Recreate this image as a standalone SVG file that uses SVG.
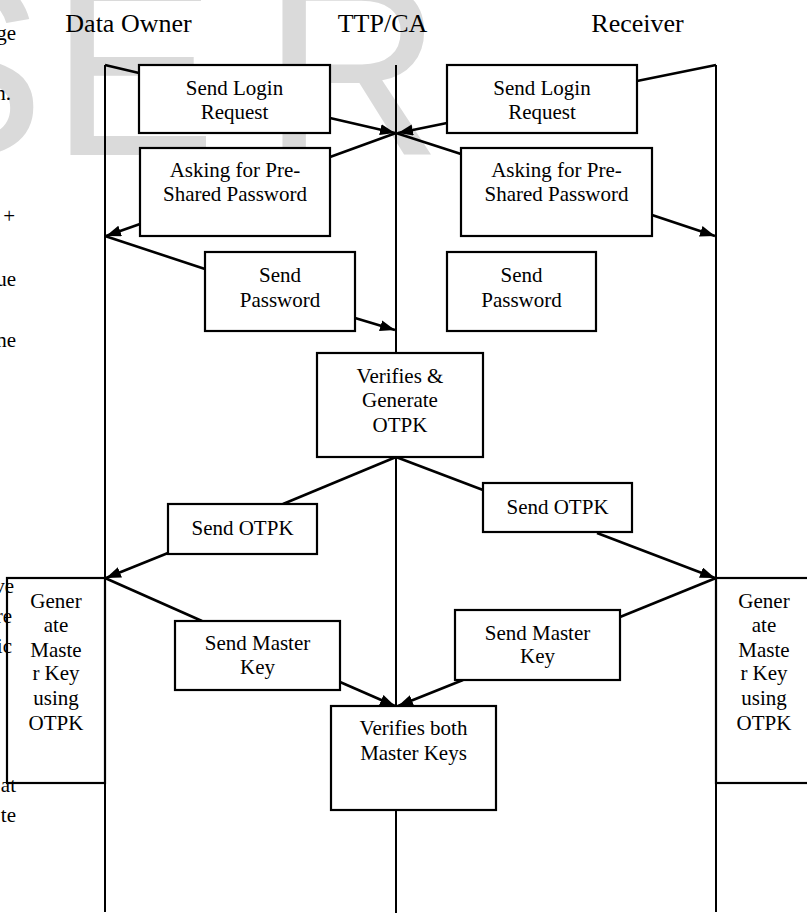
<svg xmlns="http://www.w3.org/2000/svg" width="807" height="918" viewBox="0 0 807 918">
<defs>
<marker id="ah" markerUnits="userSpaceOnUse" markerWidth="16" markerHeight="12" refX="15" refY="5.5" orient="auto">
<path d="M0,0 L15,5.5 L0,11 z" fill="#000"/>
</marker>
<style>
.wm{font-family:"Liberation Sans",Arial,sans-serif;font-size:250px;fill:#dadada}
.frag{font-family:"Liberation Serif","Times New Roman",serif;font-size:21px;fill:#000;text-anchor:end}
.hdr{font-family:"Liberation Serif","Times New Roman",serif;font-size:26px;fill:#000;text-anchor:middle}
.lbl{font-family:"Liberation Serif","Times New Roman",serif;font-size:21px;fill:#000;text-anchor:middle}
.box{fill:#fff;stroke:#000;stroke-width:2.2}
.life{stroke:#000;stroke-width:2;fill:none}
.msg{stroke:#000;stroke-width:2.6;fill:none}
.arr{stroke:#000;stroke-width:2.6;fill:none;marker-end:url(#ah)}
</style>
</defs>
<rect width="807" height="918" fill="#fff"/>
<g id="watermark">
<text class="wm" x="-122" y="155">S</text>
<text class="wm" x="50" y="155">E</text>
<text class="wm" x="262" y="155">R</text>
</g>
<g id="fragments">
<text class="frag" x="16" y="40">ge</text>
<text class="frag" x="11" y="100">n.</text>
<text class="frag" x="15" y="223">+</text>
<text class="frag" x="16" y="286">ue</text>
<text class="frag" x="16" y="347">ne</text>
<text class="frag" x="14" y="593">ve</text>
<text class="frag" x="12" y="623">re</text>
<text class="frag" x="12" y="653">ic</text>
<text class="frag" x="16" y="792">at</text>
<text class="frag" x="16" y="822">te</text>
</g>
<g id="headers">
<text class="hdr" x="128.5" y="32">Data Owner</text>
<text class="hdr" x="382.5" y="32">TTP/CA</text>
<text class="hdr" x="637.5" y="32">Receiver</text>
</g>
<g id="lifelines">
<line class="life" x1="105" y1="65" x2="105" y2="912"/>
<line class="life" x1="396" y1="65" x2="396" y2="913" stroke-width="1.6"/>
<line class="life" x1="716" y1="65" x2="716" y2="912"/>
</g>
<g id="connectors">
<path class="msg" d="M105,65 L139,73"/>
<path class="msg" d="M716,65 L637,81"/>
<path class="arr" d="M330,118 L395,133"/>
<path class="arr" d="M447,123 L398,133"/>
<path class="msg" d="M396,133 L330,157"/>
<path class="arr" d="M140,224 L106,236"/>
<path class="msg" d="M396,133 L461,154"/>
<path class="arr" d="M652,215 L715,236"/>
<path class="msg" d="M105,236 L205,269"/>
<path class="arr" d="M355,318 L395,330"/>
<path class="msg" d="M396,457 L283,504"/>
<path class="arr" d="M168,553 L106,578"/>
<path class="msg" d="M396,457 L483,490"/>
<path class="arr" d="M597,533 L715,578"/>
<path class="msg" d="M105,578 L202,621"/>
<path class="arr" d="M340,682 L395,706"/>
<path class="msg" d="M716,578 L620,617"/>
<path class="arr" d="M463,680 L398,706"/>
</g>
<g id="n-login-left"><rect class="box" x="139" y="65" width="191" height="68"/>
<text class="lbl" x="234.5" y="95">Send Login</text><text class="lbl" x="234.5" y="119">Request</text></g>
<g id="n-ask-left"><rect class="box" x="140" y="148" width="190" height="88"/>
<text class="lbl" x="235" y="177">Asking for Pre-</text><text class="lbl" x="235" y="201">Shared Password</text></g>
<g id="n-pass-left"><rect class="box" x="205" y="252" width="150" height="79"/>
<text class="lbl" x="280" y="282">Send</text><text class="lbl" x="280" y="307">Password</text></g>
<g id="n-login-right"><rect class="box" x="447" y="65" width="190" height="68"/>
<text class="lbl" x="542" y="95">Send Login</text><text class="lbl" x="542" y="119">Request</text></g>
<g id="n-ask-right"><rect class="box" x="461" y="148" width="191" height="88"/>
<text class="lbl" x="556.5" y="177">Asking for Pre-</text><text class="lbl" x="556.5" y="201">Shared Password</text></g>
<g id="n-pass-right"><rect class="box" x="447" y="252" width="149" height="79"/>
<text class="lbl" x="521.5" y="282">Send</text><text class="lbl" x="521.5" y="307">Password</text></g>
<g id="n-verify-gen"><rect class="box" x="317" y="353" width="166" height="104"/>
<text class="lbl" x="400" y="383">Verifies &amp;</text><text class="lbl" x="400" y="407">Generate</text><text class="lbl" x="400" y="432">OTPK</text></g>
<g id="n-otpk-left"><rect class="box" x="168" y="504" width="149" height="50"/>
<text class="lbl" x="242.5" y="535">Send OTPK</text></g>
<g id="n-otpk-right"><rect class="box" x="483" y="483" width="149" height="49"/>
<text class="lbl" x="557.5" y="514">Send OTPK</text></g>
<g id="n-mk-left"><rect class="box" x="175" y="621" width="165" height="69"/>
<text class="lbl" x="257.5" y="650">Send Master</text><text class="lbl" x="257.5" y="674">Key</text></g>
<g id="n-mk-right"><rect class="box" x="455" y="610" width="165" height="70"/>
<text class="lbl" x="537.5" y="640">Send Master</text><text class="lbl" x="537.5" y="663">Key</text></g>
<g id="n-verify-both"><rect class="box" x="331" y="706" width="165" height="104"/>
<text class="lbl" x="413.5" y="735">Verifies both</text><text class="lbl" x="413.5" y="760">Master Keys</text></g>
<g id="n-gen-left"><rect class="box" x="7" y="578" width="98" height="205" fill-opacity="0"/>
<text class="lbl" x="56" y="608">Gener</text><text class="lbl" x="56" y="632">ate</text><text class="lbl" x="56" y="657">Maste</text><text class="lbl" x="56" y="680">r Key</text><text class="lbl" x="56" y="705">using</text><text class="lbl" x="56" y="730">OTPK</text></g>
<g id="n-gen-right"><rect class="box" x="716" y="578" width="100" height="205"/>
<text class="lbl" x="764" y="608">Gener</text><text class="lbl" x="764" y="632">ate</text><text class="lbl" x="764" y="657">Maste</text><text class="lbl" x="764" y="680">r Key</text><text class="lbl" x="764" y="705">using</text><text class="lbl" x="764" y="730">OTPK</text></g>
</svg>
